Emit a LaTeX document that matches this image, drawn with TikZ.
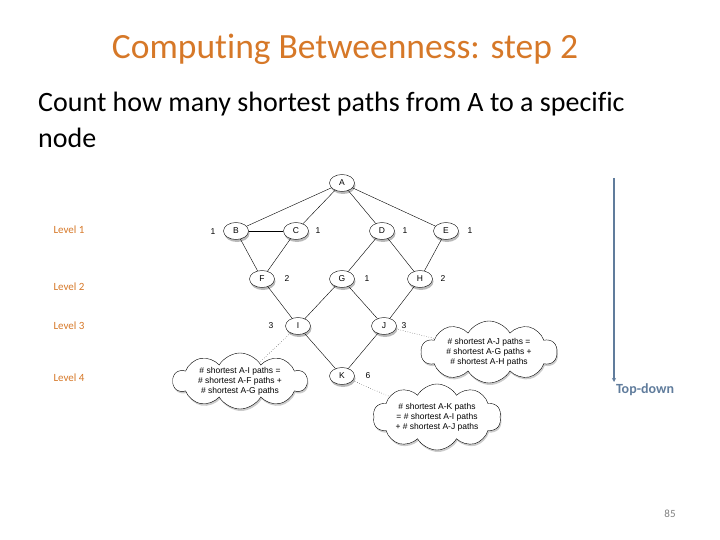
\documentclass[tikz,border=0pt]{standalone}
\usepackage{fontspec}
\setmainfont{Carlito}[Ligatures=NoCommon]
\newfontfamily\graphfont{Liberation Sans}
\definecolor{SlideOrange}{RGB}{214, 120, 40}
\definecolor{SlateBlue}{RGB}{96, 124, 156}
\usetikzlibrary{shapes,arrows.meta,positioning,calc,shadows}

\tikzset{
  vertex/.style={ellipse, draw, fill=white, minimum width=25pt, minimum height=17pt,
                 inner sep=0pt, font=\graphfont\fontsize{8.5}{9}\selectfont,
                 drop shadow={opacity=0.55, shadow xshift=1pt, shadow yshift=-2.5pt}},
  pathcount/.style={font=\graphfont\fontsize{8.5}{9}\selectfont},
  bubble/.style={cloud, cloud puffs=10, cloud puff arc=120, cloud ignores aspect,
                 draw, fill=white, inner sep=0pt,
                 drop shadow={opacity=0.4, shadow xshift=1pt, shadow yshift=-2pt}},
  notetext/.style={align=center, inner sep=0pt, font=\graphfont\fontsize{8.5}{10}\selectfont},
  levellabel/.style={anchor=west, text=SlideOrange, font=\fontsize{11}{13}\selectfont},
}

\begin{document}
\begin{tikzpicture}[x=1pt, y=-1pt]
        \useasboundingbox (0,0) rectangle (720,540);
        % heading
        \node[text=SlideOrange, font=\fontsize{35.5}{40}\selectfont] (title) at (345,49) {Computing Betweenness: step 2};
        \node[anchor=north west, align=left, inner sep=0pt, font=\fontsize{28}{36}\selectfont] (intro) at (38,92)
          {Count how many shortest paths from A to a specific\\node};

        % levels
        \node[levellabel] (lev1) at (50,230) {Level 1};
        \node[levellabel] (lev2) at (50,287) {Level 2};
        \node[levellabel] (lev3) at (50,326) {Level 3};
        \node[levellabel] (lev4) at (50,378) {Level 4};

        % graph
        \node[vertex] (A) at (342,183) {A};
        \node[vertex] (B) at (236,231) {B};
        \node[vertex] (C) at (296,231) {C};
        \node[vertex] (D) at (382,231) {D};
        \node[vertex] (E) at (446,231) {E};
        \node[vertex] (F) at (262,279) {F};
        \node[vertex] (G) at (342,279) {G};
        \node[vertex] (H) at (420,279) {H};
        \node[vertex] (I) at (298,326) {I};
        \node[vertex] (J) at (384,326) {J};
        \node[vertex] (K) at (342,376) {K};

        \foreach \u/\v in {A/B, A/C, A/D, A/E, B/C, B/F, C/F, D/G, D/H, E/H,
                           F/I, G/I, G/J, H/J, I/K, J/K}
          \draw (\u) -- (\v);

        % counts
        \node[pathcount] (nB) at (213,232) {1};
        \node[pathcount] (nC) at (318,231) {1};
        \node[pathcount] (nD) at (405,231) {1};
        \node[pathcount] (nE) at (470,231) {1};
        \node[pathcount] (nF) at (287,279) {2};
        \node[pathcount] (nG) at (367,279) {1};
        \node[pathcount] (nH) at (443,279) {2};
        \node[pathcount] (nI) at (271,326) {3};
        \node[pathcount] (nJ) at (404,326) {3};
        \node[pathcount] (nK) at (368,376) {6};

        % notes
        \node[bubble, minimum width=134pt, minimum height=56pt] (noteI) at (240,381) {};
        \node[notetext] (noteItext) at (noteI) {\# shortest A-I paths =\\\# shortest A-F paths +\\\# shortest A-G paths};
        \node[bubble, minimum width=136pt, minimum height=62pt] (noteJ) at (489,352) {};
        \node[notetext] (noteJtext) at (noteJ) {\# shortest A-J paths =\\\# shortest A-G paths +\\\# shortest A-H paths};
        \node[bubble, minimum width=128pt, minimum height=66pt] (noteK) at (437,417) {};
        \node[notetext] (noteKtext) at (noteK) {\# shortest A-K paths\\= \# shortest A-I paths\\+ \# shortest A-J paths};
        \draw[dotted] (I) -- (noteI);
        \draw[dotted] (J) -- (noteJ);
        \draw[dotted] (K) -- (noteK);

        % direction
        \coordinate (topEnd) at (614,178);
        \coordinate (botEnd) at (614,382);
        \draw[SlateBlue, line width=1.5pt, -{Stealth[length=4pt, width=4pt]}] (topEnd) -- (botEnd);
        \node[text=SlateBlue, font=\bfseries\fontsize{14}{16}\selectfont] (dir) at (645,390) {Top-down};

        \node[text=gray, font=\fontsize{11}{13}\selectfont] (page) at (670,514) {85};
      \end{tikzpicture}
\end{document}
